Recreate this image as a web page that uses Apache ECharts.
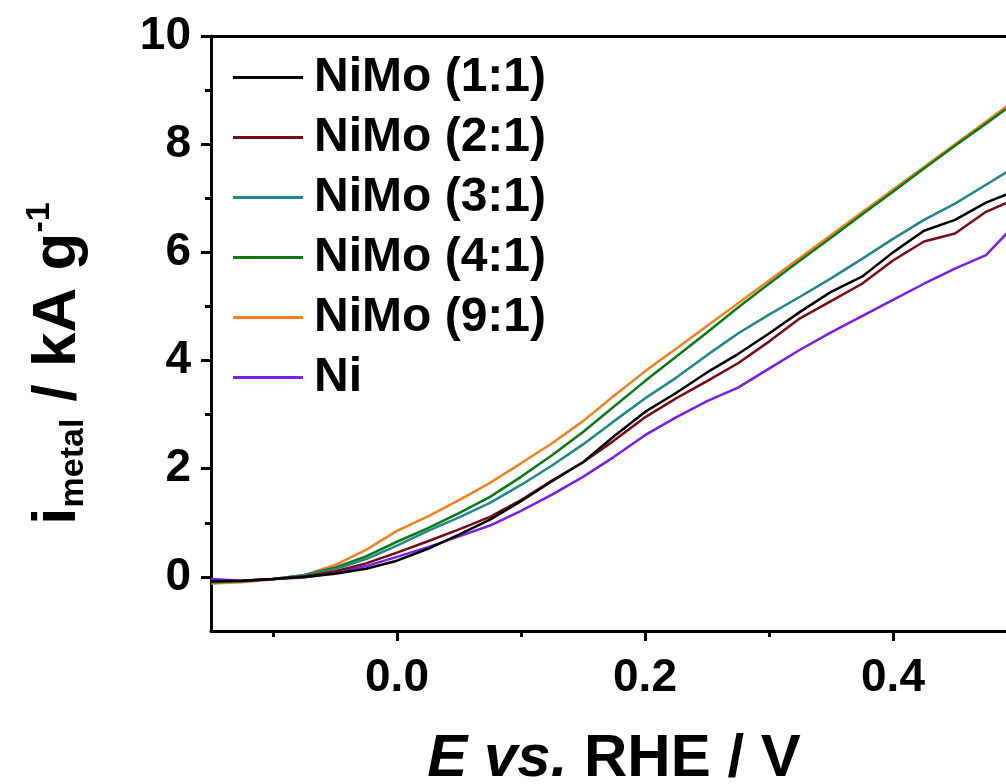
<!DOCTYPE html>
<html><head><meta charset="utf-8">
<script src="https://cdn.jsdelivr.net/npm/echarts@6/dist/echarts.min.js"></script>
<style>html,body{margin:0;padding:0;background:#fff}#c{width:1006px;height:784px}</style>
</head><body><div id="c"></div>
<script>
// Potential E vs. RHE (V)
const potential = [-0.15,-0.125,-0.1,-0.075,-0.05,-0.025,0,0.025,0.05,0.075,0.1,0.125,0.15,0.175,0.2,0.225,0.25,0.275,0.3,0.325,0.35,0.375,0.4,0.425,0.45,0.475,0.5];
const seriesNames = ['NiMo (1:1)','NiMo (2:1)','NiMo (3:1)','NiMo (4:1)','NiMo (9:1)','Ni'];
const nimo11 = [-0.08,-0.07,-0.04,0.0,0.06,0.15,0.3,0.52,0.78,1.06,1.4,1.77,2.12,2.6,3.05,3.4,3.78,4.12,4.5,4.9,5.27,5.55,6.0,6.4,6.6,6.92,7.15];
const nimo21 = [-0.08,-0.07,-0.04,0.01,0.1,0.25,0.45,0.66,0.88,1.11,1.42,1.78,2.12,2.52,2.95,3.3,3.62,3.95,4.35,4.78,5.1,5.42,5.85,6.2,6.35,6.75,7.0];
const nimo31 = [-0.1,-0.08,-0.04,0.03,0.14,0.33,0.58,0.85,1.1,1.37,1.7,2.06,2.45,2.88,3.3,3.68,4.1,4.5,4.85,5.18,5.52,5.88,6.25,6.6,6.9,7.25,7.6];
const nimo41 = [-0.1,-0.08,-0.04,0.03,0.17,0.38,0.65,0.9,1.18,1.48,1.85,2.25,2.68,3.15,3.62,4.07,4.52,4.98,5.42,5.85,6.27,6.7,7.12,7.55,7.97,8.38,8.8];
const nimo91 = [-0.12,-0.1,-0.05,0.03,0.22,0.5,0.85,1.12,1.42,1.74,2.1,2.47,2.88,3.35,3.8,4.22,4.64,5.06,5.48,5.9,6.32,6.74,7.16,7.58,8.0,8.42,8.85];
const ni = [-0.04,-0.07,-0.04,-0.01,0.07,0.2,0.37,0.55,0.75,0.95,1.22,1.52,1.85,2.22,2.62,2.95,3.25,3.5,3.85,4.2,4.52,4.82,5.12,5.42,5.7,5.95,6.55];
const xMajorTicks = [0, 0.2, 0.4];
const xMinorTicks = [-0.1, 0.1, 0.3];
const yMajorTicks = [0, 2, 4, 6, 8, 10];
const yMinorTicks = [1, 3, 5, 7, 9];

const colors = ['#000000','#7a0a14','#1f8a8a','#0a7a14','#f58220','#7a1ff0'];
const values = [nimo11, nimo21, nimo31, nimo41, nimo91, ni];
const FONT = 'Liberation Sans';

const chart = echarts.init(document.getElementById('c'), null, {renderer: 'canvas'});
const axisLine = {show: true, onZero: false, lineStyle: {color: '#000', width: 3}};
chart.setOption({
  animation: false,
  backgroundColor: '#fff',
  grid: {left: 211, right: -11, top: 36, bottom: 153, containLabel: false, outerBoundsMode: 'none'},
  legend: {
    orient: 'vertical', left: 228, top: 46,
    itemWidth: 70, itemHeight: 3, icon: 'rect', itemGap: 7,
    data: seriesNames,
    textStyle: {fontFamily: FONT, fontWeight: 'bold', fontSize: 48, color: '#000', lineHeight: 53, padding: [0,0,0,6]}
  },
  xAxis: [
    {type: 'value', position: 'bottom', min: -0.15, max: 0.5,
     axisLine: axisLine,
     axisTick: {show: true, customValues: xMajorTicks, length: 10, lineStyle: {width: 3, color: '#000'}},
     axisLabel: {customValues: xMajorTicks, formatter: v => v.toFixed(1), fontFamily: FONT, fontWeight: 'bold', fontSize: 46, color: '#000', margin: 24},
     splitLine: {show: false},
     name: '{it|E vs. }{n|RHE / V}', nameLocation: 'middle', nameGap: 98,
     nameTextStyle: {rich: {
       it: {fontFamily: FONT, fontWeight: 'bold', fontStyle: 'italic', fontSize: 60, color: '#000'},
       n: {fontFamily: FONT, fontWeight: 'bold', fontSize: 60, color: '#000'}
     }}
    },
    {type: 'value', position: 'bottom', min: -0.15, max: 0.5,
     axisLine: {show: false, onZero: false},
     axisTick: {show: true, customValues: xMinorTicks, length: 6, lineStyle: {width: 3, color: '#000'}},
     axisLabel: {show: false}, splitLine: {show: false}},
    {type: 'value', position: 'top', min: -0.15, max: 0.5,
     axisLine: axisLine, axisTick: {show: false}, axisLabel: {show: false}, splitLine: {show: false}}
  ],
  yAxis: [
    {type: 'value', position: 'left', min: -1, max: 10,
     axisLine: axisLine,
     axisTick: {show: true, customValues: yMajorTicks, length: 10, lineStyle: {width: 3, color: '#000'}},
     axisLabel: {customValues: yMajorTicks, fontFamily: FONT, fontWeight: 'bold', fontSize: 46, color: '#000', margin: 20},
     splitLine: {show: false},
     name: '{i|i}{sub|metal}{m| / kA g}{sup|-1}', nameLocation: 'middle', nameRotate: 90, nameGap: 118,
     nameTextStyle: {padding: [0, 60, 0, 0], rich: {
       i: {fontFamily: FONT, fontWeight: 'bold', fontSize: 62, color: '#000'},
       sub: {fontFamily: FONT, fontWeight: 'bold', fontSize: 34, color: '#000', padding: [32,0,0,0]},
       m: {fontFamily: FONT, fontWeight: 'bold', fontSize: 62, color: '#000'},
       sup: {fontFamily: FONT, fontWeight: 'bold', fontSize: 34, color: '#000', padding: [0,0,36,0]}
     }}
    },
    {type: 'value', position: 'left', min: -1, max: 10,
     axisLine: {show: false, onZero: false},
     axisTick: {show: true, customValues: yMinorTicks, length: 6, lineStyle: {width: 3, color: '#000'}},
     axisLabel: {show: false}, splitLine: {show: false}}
  ],
  series: seriesNames.map((name, k) => ({
    name: name, type: 'line', xAxisIndex: 0, yAxisIndex: 0,
    symbol: 'none', showSymbol: false, clip: true,
    color: colors[k],
    lineStyle: {width: 2.5, color: colors[k]},
    z: 10 - k,
    data: potential.map((e, i) => [e, values[k][i]])
  }))
});
</script></body></html>
